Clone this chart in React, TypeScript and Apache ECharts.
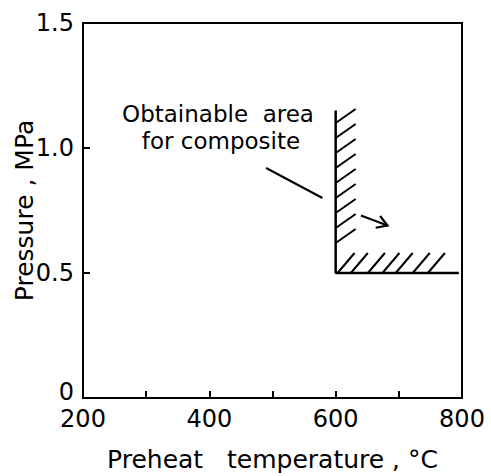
import React, { useEffect, useRef } from "react";
import * as echarts from "echarts";

// Axis ticks / labels
const xTicks = [200, 300, 400, 500, 600, 700, 800];
const xLabelValues = [200, 400, 600, 800];
const yLabelValues = [0, 0.5, 1.0, 1.5];

// Boundary of the obtainable area (preheat temperature °C, pressure MPa)
const boundary: [number, number][] = [
  [600, 1.15],
  [600, 0.5],
  [795, 0.5],
];

// Hatch anchor points along the boundary
const verticalHatchPressures = [1.1, 1.04, 0.98, 0.92, 0.86, 0.8, 0.74, 0.68, 0.62];
const horizontalHatchTemps = [603, 624, 651, 674, 695, 722, 746];

// Arrow pointing into the area: [x1, y1, x2, y2]
const arrowSeg = [[640, 0.73, 682, 0.69]];

// Leader line from the annotation to the boundary
const leader: [number, number][] = [
  [490, 0.92],
  [579, 0.8],
];

const annotationLines = ["Obtainable\u00A0\u00A0area", "for composite"];
const xTitle = "Preheat\u00A0\u00A0\u00A0temperature , °C";
const yTitle = "Pressure , MPa";

const FONT = '"DejaVu Sans", "Liberation Sans", sans-serif';

export default function App() {
  const ref = useRef<HTMLDivElement>(null);

  useEffect(() => {
    document.body.style.margin = "0";
    if (!ref.current) return;
    const chart = echarts.init(ref.current, undefined, { renderer: "svg" });

    const hatchData = [
      ...verticalHatchPressures.map((p) => [600, p, 0]),
      ...horizontalHatchTemps.map((t) => [t, 0.5, 1]),
    ];

    chart.setOption({
      animation: false,
      backgroundColor: "#fff",
      grid: {
        left: 83,
        right: 29,
        top: 23,
        bottom: 78,
        containLabel: false,
        outerBoundsMode: "none",
        show: true,
        borderColor: "#000",
        borderWidth: 2,
        backgroundColor: "transparent",
      },
      xAxis: {
        type: "value",
        min: 200,
        max: 800,
        interval: 100,
        name: xTitle,
        nameLocation: "middle",
        nameGap: 49,
        nameMoveOverlap: false,
        nameTextStyle: { fontSize: 25, fontFamily: FONT, color: "#000" },
        axisLine: { lineStyle: { color: "#000", width: 2 } },
        axisTick: { inside: true, length: 7, lineStyle: { color: "#000", width: 2 } },
        axisLabel: {
          fontSize: 24,
          fontFamily: FONT,
          color: "#000",
          margin: 9,
          formatter: (v: number) => (xLabelValues.includes(v) ? String(v) : ""),
        },
        splitLine: { show: false },
      },
      yAxis: {
        type: "value",
        min: 0,
        max: 1.5,
        interval: 0.5,
        name: yTitle,
        nameLocation: "middle",
        nameRotate: 90,
        nameGap: 46,
        nameMoveOverlap: false,
        nameTextStyle: { fontSize: 25, fontFamily: FONT, color: "#000" },
        axisLine: { lineStyle: { color: "#000", width: 2 } },
        axisTick: { inside: true, length: 7, lineStyle: { color: "#000", width: 2 } },
        axisLabel: {
          fontSize: 24,
          fontFamily: FONT,
          color: "#000",
          margin: 9,
          formatter: (v: number) => {
            const found = yLabelValues.find((y) => Math.abs(y - v) < 1e-9);
            if (found === undefined) return "";
            return found === 0 ? "{z|0}" : found.toFixed(1);
          },
          rich: {
            z: {
              fontSize: 24,
              fontFamily: FONT,
              color: "#000",
              lineHeight: 20,
              padding: [0, 0, 12, 0],
            },
          },
        },
        splitLine: { show: false },
      },
      graphic: annotationLines.map((t, i) => ({
        type: "text",
        x: i === 0 ? 218 : 221,
        y: i === 0 ? 113.5 : 140.5,
        style: {
          text: t,
          fontSize: 23,
          lineHeight: 23,
          fontFamily: FONT,
          fill: "#000",
          align: "center",
          verticalAlign: "middle",
        },
      })),
      series: [
        {
          type: "line",
          data: boundary,
          symbol: "none",
          lineStyle: { color: "#000", width: 2.5 },
          silent: true,
        },
        {
          type: "line",
          data: leader,
          symbol: "none",
          lineStyle: { color: "#000", width: 2 },
          silent: true,
        },
        {
          type: "custom",
          data: hatchData,
          silent: true,
          renderItem: (_params: any, api: any) => {
            const p = api.coord([api.value(0), api.value(1)]);
            const side = api.value(2);
            const dx = side === 0 ? 20 : 17;
            const dy = side === 0 ? -14 : -20;
            return {
              type: "line",
              shape: { x1: p[0], y1: p[1], x2: p[0] + dx, y2: p[1] + dy },
              style: { stroke: "#000", lineWidth: 2 },
            };
          },
        },
        {
          type: "custom",
          data: arrowSeg,
          silent: true,
          renderItem: (_params: any, api: any) => {
            const a = api.coord([api.value(0), api.value(1)]);
            const b = api.coord([api.value(2), api.value(3)]);
            const ang = Math.atan2(b[1] - a[1], b[0] - a[0]);
            const L = 12;
            const spread = 0.55;
            const h1 = [b[0] - L * Math.cos(ang - spread), b[1] - L * Math.sin(ang - spread)];
            const h2 = [b[0] - L * Math.cos(ang + spread), b[1] - L * Math.sin(ang + spread)];
            return {
              type: "group",
              children: [
                {
                  type: "line",
                  shape: { x1: a[0], y1: a[1], x2: b[0], y2: b[1] },
                  style: { stroke: "#000", lineWidth: 2.2 },
                },
                {
                  type: "polyline",
                  shape: { points: [h1, b, h2] },
                  style: { stroke: "#000", lineWidth: 2.2, fill: "none" },
                },
              ],
            };
          },
        },
      ],
    });

    return () => chart.dispose();
  }, []);

  return <div ref={ref} style={{ width: 491, height: 476 }} />;
}
